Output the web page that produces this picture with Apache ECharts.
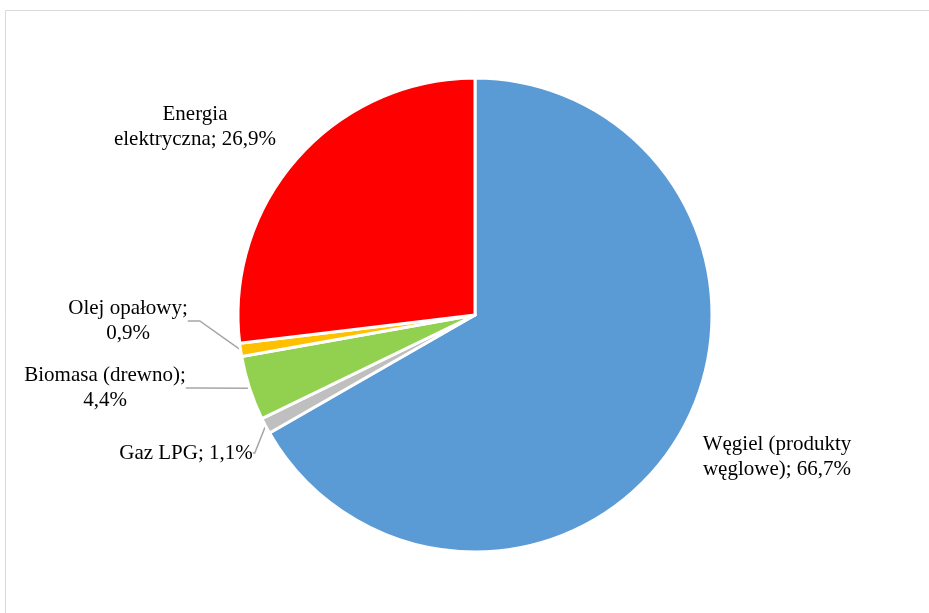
<!DOCTYPE html>
<html>
<head>
<meta charset="utf-8">
<script src="https://cdn.jsdelivr.net/npm/echarts@6/dist/echarts.min.js"></script>
<style>
  html, body { margin: 0; padding: 0; background: #fff; }
  #chart { width: 929px; height: 613px; }
</style>
</head>
<body>
<div id="chart"></div>
<script>
// Struktura nośników energii (udział procentowy)
const categories = [
  'Węgiel (produkty\nwęglowe)',
  'Gaz LPG',
  'Biomasa (drewno)',
  'Olej opałowy',
  'Energia\nelektryczna'
];
const shares = [66.7, 1.1, 4.4, 0.9, 26.9];
const sliceColors = ['#5B9BD5', '#BFBFBF', '#92D050', '#FFC000', '#FF0000'];
// separator between name and value: same line or new line
const labelBreaks = [' ', ' ', '\n', '\n', ' '];
const showLeader = [false, true, true, true, false];
const leaderTail = [12, 2, 12, 12, 12];

// label anchor points (centre of each label block)
const labelSpots = [
  [777, 457],
  [186, 453],
  [105, 388],
  [128, 321],
  [195, 127]
];

const fmt = v => v.toFixed(1).replace('.', ',');

const chart = echarts.init(document.getElementById('chart'));
chart.setOption({
  animation: false,
  backgroundColor: '#fff',
  graphic: [{
    type: 'rect',
    shape: { x: 5.5, y: 10.5, width: 940, height: 620 },
    style: { fill: 'none', stroke: '#D9D9D9', lineWidth: 1 },
    silent: true
  }],
  series: [{
    type: 'pie',
    center: [475, 315],
    radius: 237,
    startAngle: 90,
    clockwise: true,
    avoidLabelOverlap: false,
    itemStyle: { borderColor: '#fff', borderWidth: 3 },
    label: {
      show: true,
      position: 'outside',
      fontFamily: '"Liberation Serif", "Times New Roman", serif',
      fontSize: 21,
      lineHeight: 25,
      color: '#000',
      align: 'center',
      formatter: p => {
        const i = p.dataIndex;
        return categories[i] + ';' + labelBreaks[i] + fmt(shares[i]) + '%';
      }
    },
    labelLine: {
      show: true,
      length: 10,
      length2: 12,
      smooth: false,
      lineStyle: { color: '#A6A6A6', width: 1.5 }
    },
    labelLayout: p => {
      const s = labelSpots[p.dataIndex];
      return { x: s[0], y: s[1], align: 'center', verticalAlign: 'middle' };
    },
    data: categories.map((c, i) => ({
      name: c,
      value: shares[i],
      itemStyle: { color: sliceColors[i] },
      labelLine: { show: showLeader[i], length2: leaderTail[i] }
    }))
  }]
});
</script>
</body>
</html>
